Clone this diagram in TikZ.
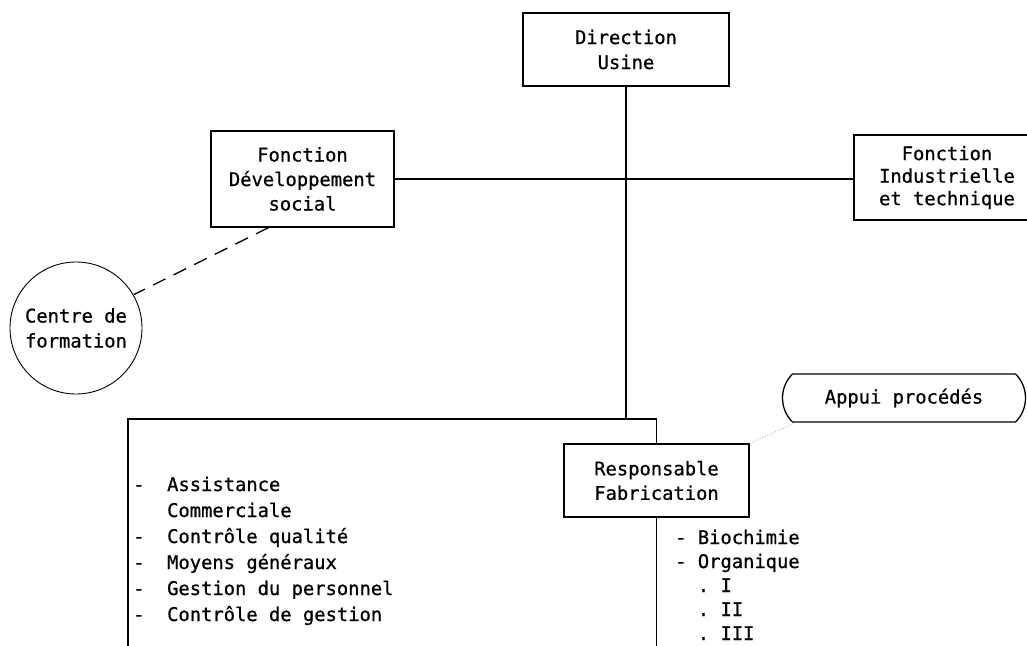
\documentclass[tikz,border=0pt]{standalone}
\usepackage{fontspec}
\newfontfamily\monofont[FakeBold=0.7]{DejaVu Sans Mono}
\usetikzlibrary{shapes.misc,calc}
\begin{document}
\begin{tikzpicture}[x=1pt,y=-1pt,
  every node/.style={font=\monofont\fontsize{18.8}{24.5}\selectfont, inner sep=0pt},
  box/.style={draw, line width=1.3pt, align=center},
  conn/.style={line width=1.3pt},
  dashconn/.style={line width=1.3pt, dash pattern=on 14pt off 9pt},
  dotconn/.style={line width=0.8pt, gray!70, dotted},
  listtext/.style={align=left, anchor=base west}
  ]
\clip (0,0) rectangle (1027,645);
\node[box, line width=2.6pt, minimum width=206pt, minimum height=73pt,
      font=\monofont\fontsize{18.8}{25}\selectfont] (dir) at (626,49.5) {Direction\\Usine};
\node[box, minimum width=183pt, minimum height=96pt] (dev) at (302.5,179) {Fonction\\Développement\\social};
\node[box, minimum width=186pt, minimum height=85pt,
      font=\monofont\fontsize{18.8}{22.5}\selectfont] (ind) at (947,177.5) {Fonction\\Industrielle\\et technique};
\node[box, minimum width=185pt, minimum height=73pt] (resp) at (656.5,480.5) {Responsable\\Fabrication};
\node[draw, circle, line width=0.9pt, minimum size=132pt, align=left,
      font=\monofont\fontsize{18.8}{25}\selectfont] (cf) at (76,328) {Centre de\\formation};
\node[draw, rounded rectangle, rounded rectangle arc length=90, minimum width=243pt, minimum height=48pt,
      line width=1.3pt] (appui) at (904,398) {Appui procédés};

\node[listtext, font=\monofont\fontsize{18.8}{26}\selectfont] (llist) at (133,621)
  {-\phantom{xx}Assistance\\
   \phantom{xxx}Commerciale\\
   -\phantom{xx}Contrôle qualité\\
   -\phantom{xx}Moyens généraux\\
   -\phantom{xx}Gestion du personnel\\
   -\phantom{xx}Contrôle de gestion};
\node[listtext, font=\monofont\fontsize{18.8}{24}\selectfont] (rlist) at (675,640)
  {-\phantom{x}Biochimie\\
   -\phantom{x}Organique\\
   \phantom{xx}.\phantom{x}I\\
   \phantom{xx}.\phantom{x}II\\
   \phantom{xx}.\phantom{x}III};

\coordinate (lbtl) at (128,419);
\coordinate (lbbl) at (128,660);

\draw[conn] (dir.south) -- (dir.south |- lbtl);
\draw[conn] (dev.east) -- (dev.east -| ind.west);
\draw[conn] (resp.north) |- (lbtl) -- (lbbl);
\draw[conn] (resp.south) -- (resp.south |- lbbl);
\draw[dashconn] ($(dev.south)+(-34,0)$) -- (cf.30);
\draw[dotconn] (resp.north east) -- ($(appui.south west)+(4,0)$);
\end{tikzpicture}
\end{document}
